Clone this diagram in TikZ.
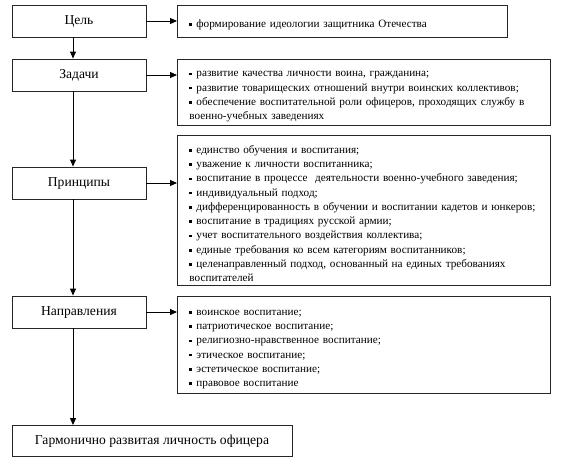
\documentclass[tikz,border=0pt]{standalone}
\usepackage{fontspec}
\setmainfont{Liberation Serif}
\usetikzlibrary{arrows.meta}
\newcommand{\bitem}[1]{\par\noindent\hangindent=7pt\hangafter=1\makebox[7pt][l]{\raisebox{1.6pt}{\rule{2.6pt}{2.6pt}}}#1}
\begin{document}
\begin{tikzpicture}[x=1pt,y=-1pt,
  lbox/.style={draw=black!85, line width=0.9pt, minimum width=134pt, minimum height=32pt, font=\fontsize{13.6}{15}\selectfont, inner sep=0pt},
  rbox/.style={draw=black!85, line width=0.9pt, anchor=north west, align=left, inner xsep=12pt, inner ysep=3pt, font=\fontsize{11.2}{14.3}\selectfont},
  arr/.style={line width=0.9pt, -{Triangle[length=7pt,width=6pt]}}]
\useasboundingbox (0,0) rectangle (562,466);
\coordinate (vx) at (73,0);
\node[lbox] (cel) at (79,21) {Цель};
\node[lbox] (zad) at (79,75) {Задачи};
\node[lbox] (pri) at (79,183) {Принципы};
\node[lbox] (nap) at (79,312) {Направления};
\node[lbox, minimum width=280pt, minimum height=31pt] (fin) at (152,441) {Гармонично развитая личность офицера};
\node[rbox, minimum width=330pt, minimum height=32pt, text width=306pt] (r1) at (177,5) {\bitem{формирование идеологии защитника Отечества}};
\node[rbox, minimum width=371pt, minimum height=65pt, text width=349pt] (r2) at (177,59) {\bitem{развитие качества личности воина, гражданина;}
\bitem{развитие товарищеских отношений внутри воинских коллективов;}
\bitem{обеспечение воспитательной роли офицеров, проходящих службу в военно-учебных заведениях}};
\node[rbox, minimum width=371pt, minimum height=150pt, text width=349pt] (r3) at (177,135) {\bitem{единство обучения и воспитания;}
\bitem{уважение к личности воспитанника;}
\bitem{воспитание в процессе\ \ деятельности военно-учебного заведения;}
\bitem{индивидуальный подход;}
\bitem{дифференцированность в обучении и воспитании кадетов и юнкеров;}
\bitem{воспитание в традициях русской армии;}
\bitem{учет воспитательного воздействия коллектива;}
\bitem{единые требования ко всем категориям воспитанников;}
\bitem{целенаправленный подход, основанный на единых требованиях воспитателей}};
\node[rbox, minimum width=371pt, minimum height=97pt, text width=349pt] (r4) at (177,296) {\bitem{воинское воспитание;}
\bitem{патриотическое воспитание;}
\bitem{религиозно-нравственное воспитание;}
\bitem{этическое воспитание;}
\bitem{эстетическое воспитание;}
\bitem{правовое воспитание}};
\draw[arr] (cel.east) -- (cel.east -| r1.west);
\draw[arr] (zad.east) -- (zad.east -| r2.west);
\draw[arr] (pri.east) -- (pri.east -| r3.west);
\draw[arr] (nap.east) -- (nap.east -| r4.west);
\draw[arr] (cel.south -| vx) -- (zad.north -| vx);
\draw[arr] (zad.south -| vx) -- (pri.north -| vx);
\draw[arr] (pri.south -| vx) -- (nap.north -| vx);
\draw[arr] (nap.south -| vx) -- (fin.north -| vx);
\end{tikzpicture}
\end{document}
